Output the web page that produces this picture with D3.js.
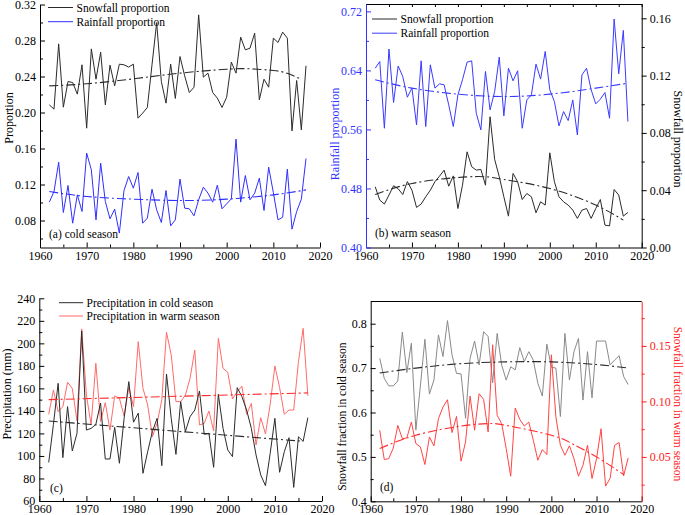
<!DOCTYPE html>
<html><head><meta charset="utf-8">
<script src="https://cdn.jsdelivr.net/npm/d3@7"></script>
<style>
body{margin:0;background:#fff;}
svg{display:block;font-family:"Liberation Serif","Times New Roman",serif;}
</style></head>
<body><svg id="c" width="685" height="515"></svg>
<script>
// ---------- DATA ----------
const years = [1962,1963,1964,1965,1966,1967,1968,1969,1970,1971,1972,1973,1974,1975,1976,1977,1978,1979,1980,1981,
1982,1983,1984,1985,1986,1987,1988,1989,1990,1991,1992,1993,1994,1995,1996,1997,1998,1999,2000,2001,
2002,2003,2004,2005,2006,2007,2008,2009,2010,2011,2012,2013,2014,2015,2016,2017];
const xTicks = [1960,1970,1980,1990,2000,2010,2020];
const xMinor = [1965,1975,1985,1995,2005,2015];

// (a) cold season
const aSnow = [0.2085,0.2037,0.2763,0.2059,0.2344,0.2333,0.2204,0.253,0.1826,0.2707,
0.237,0.267,0.2085,0.2526,0.2296,0.2537,0.253,0.2504,0.2537,0.1937,
0.1993,0.2056,0.253,0.300,0.2344,0.2104,0.2537,0.2156,0.2622,0.2407,
0.2222,0.2281,0.3085,0.2393,0.2437,0.2222,0.216,0.2056,0.217,0.256,
0.2437,0.2837,0.2696,0.2715,0.2881,0.2141,0.237,0.2281,0.2826,0.2778,
0.2893,0.2826,0.1796,0.2356,0.1807,0.2519];
const aRain = [0.1004,0.1122,0.1448,0.0889,0.1189,0.077,0.1085,0.09,0.1548,0.1363,
0.0807,0.1437,0.1011,0.0819,0.0926,0.066,0.1133,0.1289,0.1159,0.1333,
0.077,0.0826,0.1148,0.0919,0.0778,0.1133,0.0741,0.0807,0.126,0.0937,
0.093,0.0852,0.103,0.117,0.1104,0.1004,0.1193,0.093,0.0985,0.1041,
0.1704,0.1004,0.13,0.103,0.1104,0.127,0.0911,0.1393,0.1111,0.0807,
0.0837,0.137,0.0704,0.09,0.1037,0.1489];
const aSnowTrendYears = [1962,1970,1980,1990,2000,2005,2010,2013,2016];
const aSnowTrend = [0.2296,0.2319,0.2374,0.2437,0.2481,0.2485,0.2467,0.2435,0.237];
const aRainTrendYears = [1962,1970,1980,1990,2000,2010,2017];
const aRainTrend = [0.1122,0.1067,0.1037,0.1022,0.1037,0.1085,0.114];
const aYTicks = [0.08,0.12,0.16,0.20,0.24,0.28,0.32];
const aYMinor = [0.06,0.10,0.14,0.18,0.22,0.26,0.30];

// (b) warm season
const bRain = [0.643,0.652,0.5616,0.669,0.5965,0.646,0.6318,0.6037,0.616,0.5661,
0.653,0.5639,0.6476,0.616,0.6218,0.6205,0.5933,0.5639,0.6069,0.6273,
0.6512,0.653,0.582,0.5594,0.6386,0.5865,0.6114,0.658,0.5784,0.643,
0.6259,0.6395,0.5616,0.6,0.6069,0.6485,0.6282,0.6657,0.6137,0.5978,
0.5648,0.5842,0.572,0.6,0.5526,0.634,0.643,0.6137,0.5947,0.601,
0.61,0.5752,0.7096,0.6354,0.6942,0.5707];
const bSnow = [0.0424,0.0331,0.0303,0.0366,0.0431,0.041,0.037,0.046,0.040,0.028,
0.0303,0.0354,0.040,0.0459,0.0498,0.054,0.0428,0.05,0.0272,0.0435,
0.0668,0.0564,0.054,0.0545,0.0435,0.0913,0.0615,0.0494,0.0354,0.0219,
0.0517,0.0459,0.0335,0.0377,0.0354,0.0242,0.0319,0.0296,0.0661,0.0459,
0.0354,0.0319,0.0296,0.0261,0.0203,0.0261,0.0272,0.0203,0.0272,0.0335,
0.0156,0.0151,0.0405,0.0366,0.0219,0.0245];
const bRainTrendYears = [1962,1970,1980,1990,2000,2010,2017];
const bRainTrend = [0.6273,0.616,0.6078,0.6046,0.6078,0.616,0.6227];
const bSnowTrendYears = [1962,1970,1980,1986,1990,2000,2010,2016];
const bSnowTrend = [0.037,0.0447,0.0489,0.0494,0.0475,0.0412,0.0296,0.0191];
const bYTicksL = [0.40,0.48,0.56,0.64,0.72];
const bYMinorL = [0.44,0.52,0.60,0.68];
const bYTicksR = [0.00,0.04,0.08,0.12,0.16];
const bYMinorR = [0.02,0.06,0.10,0.14];

// (c) precipitation
const cCold = [94.3,128,164.5,98.5,143.8,104.4,120.1,211,123,124.5,
128,147,97.3,97.3,125.4,93.5,133.4,166,130,138,
84.6,103.8,121.6,133.4,91.4,172.8,133.4,101.4,148.2,121.6,
134.9,140.8,157.7,119.2,120.1,89.9,154.7,124.5,105.3,99.4,
160.7,152.7,140.8,124.5,100.9,83.1,73.6,102.3,133.4,85.5,
103.8,116.2,72.1,117,113,134];
const cWarm = [137,158.6,139.3,143.8,165.4,160,131.3,212.8,154.1,127.5,
182.3,130.5,147.3,123,153.3,151.2,135.5,160.7,143.8,201.5,
160,145.3,117.1,129,149.7,209.8,189.7,148.2,148.2,154.1,
169,194.1,127.5,129,139.9,122.2,204.5,177.8,174.3,150.6,
157.1,162,137,146.7,109.7,134,119.5,145.8,179.9,160.7,
137,140.8,140.8,183.7,213.3,153.5];
const cColdTrendYears = [1962,2016];
const cColdTrend = [131,113];
const cWarmTrendYears = [1962,2017];
const cWarmTrend = [150,156];
const cYTicks = [60,80,100,120,140,160,180,200,220,240];
const cYMinor = [70,90,110,130,150,170,190,210,230];

// (d) snowfall fraction
const dCold = [0.722,0.677,0.660,0.660,0.671,0.781,0.690,0.756,0.5605,0.66,
0.765,0.6415,0.673,0.775,0.726,0.807,0.73,0.688,0.687,0.587,
0.722,0.761,0.707,0.782,0.771,0.667,0.778,0.707,0.673,0.703,
0.696,0.746,0.715,0.737,0.718,0.666,0.637,0.754,0.702,0.70,
0.591,0.778,0.673,0.737,0.767,0.628,0.737,0.633,0.761,0.761,
0.761,0.707,0.718,0.728,0.681,0.663];
const dWarm = [0.074,0.0476,0.0485,0.058,0.0784,0.0665,0.067,0.0814,0.062,0.059,
0.0431,0.068,0.0599,0.0844,0.0949,0.1015,0.0719,0.0865,0.0461,0.0635,
0.1048,0.074,0.1069,0.1018,0.0725,0.151,0.0874,0.080,0.0575,0.0326,
0.094,0.0838,0.0778,0.0814,0.065,0.047,0.0566,0.0521,0.142,0.086,
0.0605,0.0515,0.06,0.0485,0.0326,0.0425,0.0605,0.0305,0.0485,0.0754,
0.0237,0.0305,0.0605,0.0629,0.0329,0.0491];
const dColdTrendYears = [1962,1970,1980,1990,2000,2010,2017];
const dColdTrend = [0.689,0.700,0.710,0.714,0.714,0.708,0.700];
const dWarmTrendYears = [1962,1970,1980,1986,1990,2000,2005,2010,2016];
const dWarmTrend = [0.0575,0.0695,0.0778,0.080,0.0784,0.0695,0.061,0.05,0.034];
const dYTicksL = [0.4,0.5,0.6,0.7,0.8];
const dYMinorL = [0.45,0.55,0.65,0.75];
const dYTicksR = [0.05,0.10,0.15];
const dYMinorR = [0.025,0.075,0.125,0.175];

// ---------- DRAW ----------
const svg = d3.select("#c");
const FS = 12, LFS = 11.5;
const DASH = "9,3,2,3";

function zip(xs, ys){ return xs.map((v,i)=>[v, ys[i]]); }

function drawLine(g, x, y, xs, ys, color, opts={}){
  const gen = d3.line().x(d=>x(d[0])).y(d=>y(d[1]));
  if (opts.curve) gen.curve(opts.curve);
  g.append("path").datum(zip(xs, ys))
    .attr("fill","none").attr("stroke",color)
    .attr("stroke-width", opts.width||1)
    .attr("stroke-dasharray", opts.dash||null)
    .attr("stroke-linejoin","round")
    .attr("d", gen);
}

function bottomAxis(x, y0){
  const g = svg.append("g").attr("transform",`translate(0,${y0})`);
  g.call(d3.axisBottom(x).tickValues(xTicks).tickFormat(d3.format("d")).tickSize(-5).tickSizeOuter(0).tickPadding(3.5));
  g.selectAll("text").attr("font-size",FS).attr("font-family","Liberation Serif");
  const gm = svg.append("g").attr("transform",`translate(0,${y0})`);
  gm.call(d3.axisBottom(x).tickValues(xMinor).tickFormat("").tickSize(-3).tickSizeOuter(0));
  gm.select(".domain").remove();
  return g;
}

function vAxis(kind, y, x0, major, minor, fmt, color){
  const A = kind==="left" ? d3.axisLeft : d3.axisRight;
  const g = svg.append("g").attr("transform",`translate(${x0},0)`).attr("color",color);
  const ts = kind==="left" ? -5 : 5;
  g.call(A(y).tickValues(major).tickFormat(d3.format(fmt)).tickSize(ts).tickSizeOuter(0).tickPadding(kind==="left"?4:3));
  g.selectAll("text").attr("font-size",FS).attr("font-family","Liberation Serif").attr("fill",color);
  const gm = svg.append("g").attr("transform",`translate(${x0},0)`).attr("color",color);
  gm.call(A(y).tickValues(minor).tickFormat("").tickSize(kind==="left"?-3:3).tickSizeOuter(0));
  gm.select(".domain").remove();
  return g;
}

function rotText(x, y, angle, txt, color, size){
  svg.append("text").attr("transform",`translate(${x},${y}) rotate(${angle})`)
    .attr("text-anchor","middle").attr("font-size",size||FS).attr("fill",color||"#000").text(txt);
}
function label(x, y, txt, color, size){
  svg.append("text").attr("x",x).attr("y",y).attr("font-size",size||LFS).attr("fill",color||"#000").text(txt);
}
function legendItem(x1, x2, y, txt, color){
  svg.append("line").attr("x1",x1).attr("x2",x2).attr("y1",y).attr("y2",y).attr("stroke",color).attr("stroke-width",1);
  label(x2+3.5, y+4, txt, "#000", LFS);
}

const curve = d3.curveNatural;

// ===== Panel (a) =====
{
  const x = d3.scaleLinear().domain([1960,2020]).range([40,320]);
  const y = d3.scaleLinear().domain([0.05,0.32]).range([247.5,4.5]);
  const g = svg.append("g");
  drawLine(g,x,y,years,aSnow,"#2b2b2b");
  drawLine(g,x,y,years,aRain,"#2f2fff");
  drawLine(g,x,y,aSnowTrendYears,aSnowTrend,"#2b2b2b",{dash:DASH,curve,width:1.1});
  drawLine(g,x,y,aRainTrendYears,aRainTrend,"#2f2fff",{dash:DASH,curve,width:1.1});
  bottomAxis(x,247.5);
  vAxis("left",y,40,aYTicks,aYMinor,".2f","#000");
  rotText(12.5,118,-90,"Proportion");
  legendItem(48,73,7.5,"Snowfall proportion","#2b2b2b");
  legendItem(48,73,21.7,"Rainfall proportion","#2f2fff");
  label(49,237.5,"(a) cold season","#000",11.5);
}

// ===== Panel (b) =====
{
  const x = d3.scaleLinear().domain([1960,2020]).range([366,641.7]);
  const yL = d3.scaleLinear().domain([0.40,0.73]).range([247.5,4]);
  const yR = d3.scaleLinear().domain([0,0.17]).range([247.5,4]);
  const g = svg.append("g");
  drawLine(g,x,yL,years,bRain,"#3a3aff");
  drawLine(g,x,yR,years,bSnow,"#2b2b2b");
  drawLine(g,x,yL,bRainTrendYears,bRainTrend,"#3a3aff",{dash:DASH,curve,width:1.1});
  drawLine(g,x,yR,bSnowTrendYears,bSnowTrend,"#2b2b2b",{dash:DASH,curve,width:1.1});
  bottomAxis(x,247.5);
  const gt = svg.append("g").attr("transform","translate(0,4)");
  gt.call(d3.axisTop(x).tickValues(xTicks.concat(xMinor)).tickFormat("").tickSize(-3).tickSizeOuter(0));
  vAxis("left",yL,366,bYTicksL,bYMinorL,".2f","#3333ff");
  vAxis("right",yR,641.7,bYTicksR,bYMinorR,".2f","#000");
  rotText(338.5,134,-90,"Rainfall proportion","#3333ff");
  rotText(673.5,139,90,"Snowfall proportion","#000");
  legendItem(372,397,19,"Snowfall proportion","#2b2b2b");
  legendItem(372,397,33.2,"Rainfall proportion","#3a3aff");
  label(375,236.8,"(b) warm season","#000",11.5);
}

// ===== Panel (c) =====
{
  const x = d3.scaleLinear().domain([1960,2020]).range([39.3,322]);
  const y = d3.scaleLinear().domain([60,240]).range([501,298.3]);
  const g = svg.append("g");
  drawLine(g,x,y,years,cWarm,"#ff6b6b");
  drawLine(g,x,y,years,cCold,"#2b2b2b");
  drawLine(g,x,y,cWarmTrendYears,cWarmTrend,"#ff2a2a",{dash:DASH,width:1.1});
  drawLine(g,x,y,cColdTrendYears,cColdTrend,"#2b2b2b",{dash:DASH,width:1.1});
  bottomAxis(x,501);
  vAxis("left",y,39.3,cYTicks,cYMinor,"d","#000");
  rotText(10.5,394,-90,"Precipitation (mm)");
  legendItem(59,83,302.7,"Precipitation in cold season","#2b2b2b");
  legendItem(59,83,316,"Precipitation in warm season","#ff6b6b");
  label(50,492,"(c)","#000",11.5);
}

// ===== Panel (d) =====
{
  const x = d3.scaleLinear().domain([1960,2020]).range([370.7,641.7]);
  const yL = d3.scaleLinear().domain([0.4,0.85]).range([501.3,301.5]);
  const yR = d3.scaleLinear().domain([0.01,0.19]).range([501.3,301.5]);
  const g = svg.append("g");
  drawLine(g,x,yL,years,dCold,"#8a8a8a");
  drawLine(g,x,yR,years,dWarm,"#ff4545");
  drawLine(g,x,yL,dColdTrendYears,dColdTrend,"#2b2b2b",{dash:DASH,curve,width:1.1});
  drawLine(g,x,yR,dWarmTrendYears,dWarmTrend,"#ff2a2a",{dash:DASH,curve,width:1.1});
  bottomAxis(x,501.3);
  svg.append("line").attr("x1",370.7).attr("x2",641.7).attr("y1",301.5).attr("y2",301.5).attr("stroke","#000");
  vAxis("left",yL,370.7,dYTicksL,dYMinorL,".1f","#000");
  vAxis("right",yR,641.7,dYTicksR,dYMinorR,".2f","#ff2020");
  rotText(346,416.7,-90,"Snowfall fraction in cold season","#000",11.5);
  rotText(674,404,90,"Snowfall fraction in warm season","#ff2020",11.5);
  label(380,490.5,"(d)","#000",11.5);
}
</script></body></html>
